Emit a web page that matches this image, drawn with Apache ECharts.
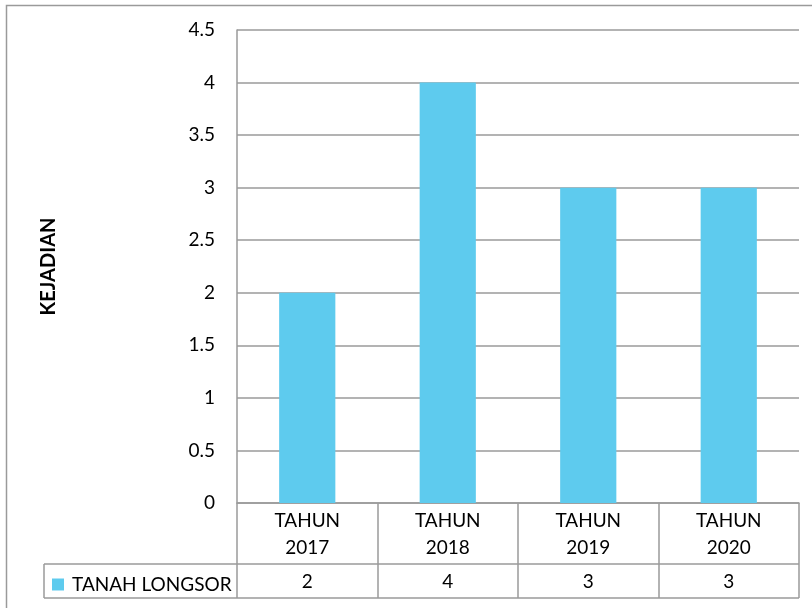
<!DOCTYPE html>
<html>
<head>
<meta charset="utf-8">
<script src="https://cdn.jsdelivr.net/npm/echarts@6/dist/echarts.min.js"></script>
<style>
  html, body { margin: 0; padding: 0; background: #fff; }
  #chart { width: 812px; height: 608px; }
</style>
</head>
<body>
<div id="chart"></div>
<script>
const categories = ['TAHUN\n2017', 'TAHUN\n2018', 'TAHUN\n2019', 'TAHUN\n2020'];
const seriesName = 'TANAH LONGSOR';
const values = [2, 4, 3, 3];
const yTicks = { min: 0, max: 4.5, interval: 0.5 };
const yTitle = 'KEJADIAN';

const FONT = 'Lato';
const FS = 19;
const GRID_LEFT = 237, GRID_TOP = 30, GRID_RIGHT = 13, GRID_BOTTOM = 105;
const LINE = '#9a9a9a';
const ROW1 = 61;   // header row height
const ROW2 = 34;   // value row height
const LEGEND_LEFT = 44;

const chart = echarts.init(document.getElementById('chart'), null, { renderer: 'canvas' });

const option = {
  animation: false,
  textStyle: { fontFamily: FONT },
  grid: { left: GRID_LEFT, top: GRID_TOP, right: GRID_RIGHT, bottom: GRID_BOTTOM, containLabel: false },
  legend: {
    left: LEGEND_LEFT + 3, top: 570,
    icon: 'rect', itemWidth: 12, itemHeight: 12,
    textStyle: { fontFamily: FONT, fontSize: FS, color: '#000', padding: [0, 0, 0, 3] },
    data: [seriesName]
  },
  xAxis: [
    {
      type: 'category', data: categories, boundaryGap: true,
      axisLine: { show: true, lineStyle: { color: LINE, width: 1.5 } },
      axisTick: { show: true, length: ROW1 + ROW2, inside: false, lineStyle: { color: LINE, width: 1.5 } },
      axisLabel: { fontFamily: FONT, fontSize: FS, color: '#000', lineHeight: 27, margin: 4, interval: 0 },
      splitLine: { show: false }
    },
    {
      type: 'category', data: values.map(v => String(v)), position: 'bottom', offset: ROW1,
      boundaryGap: true,
      axisLine: { show: false }, axisTick: { show: false },
      axisLabel: { fontFamily: FONT, fontSize: FS, color: '#000', lineHeight: 27, margin: 4, interval: 0 }
    }
  ],
  yAxis: {
    type: 'value', min: yTicks.min, max: yTicks.max, interval: yTicks.interval,
    name: yTitle, nameLocation: 'middle', nameRotate: 90, nameGap: 178,
    nameTextStyle: { fontFamily: FONT, fontSize: 20, fontWeight: 'bold', color: '#000' },
    axisLine: { show: true, lineStyle: { color: LINE, width: 1.5 } },
    axisTick: { show: false },
    axisLabel: { fontFamily: FONT, fontSize: FS, color: '#000', margin: 22 },
    splitLine: { show: true, lineStyle: { color: LINE, width: 1.5 } }
  },
  series: [{
    name: seriesName, type: 'bar', data: values, barWidth: '40%',
    itemStyle: { color: '#5ECBEE' }
  }]
};
chart.setOption(option);

// table lines positioned from the chart's own scales
const y0 = chart.convertToPixel({ yAxisIndex: 0 }, 0);
const xFirst = chart.convertToPixel({ xAxisIndex: 0 }, 0);
const xLast = chart.convertToPixel({ xAxisIndex: 0 }, categories.length - 1);
const half = (xLast - xFirst) / (categories.length - 1) / 2;
const xRight = xLast + half;
const yMid = y0 + ROW1, yBot = y0 + ROW1 + ROW2;
const ls = { stroke: LINE, lineWidth: 1.5 };
chart.setOption({
  graphic: [
    { type: 'rect', shape: { x: 6.5, y: 5.5, width: 900, height: 700 }, style: { fill: null, stroke: LINE, lineWidth: 1.5 }, silent: true, z: 0 },
    { type: 'line', shape: { x1: LEGEND_LEFT, y1: yMid, x2: xRight, y2: yMid }, style: ls, silent: true },
    { type: 'line', shape: { x1: LEGEND_LEFT, y1: yBot, x2: xRight, y2: yBot }, style: ls, silent: true },
    { type: 'line', shape: { x1: LEGEND_LEFT, y1: yMid, x2: LEGEND_LEFT, y2: yBot }, style: ls, silent: true }
  ]
});
</script>
</body>
</html>
